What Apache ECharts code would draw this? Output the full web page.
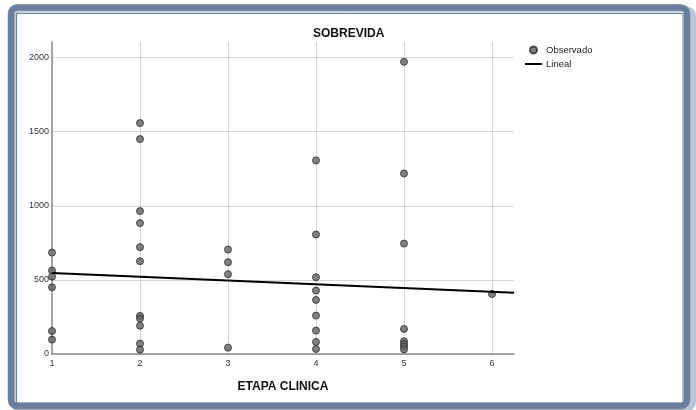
<!DOCTYPE html>
<html>
<head>
<meta charset="utf-8">
<script src="https://cdn.jsdelivr.net/npm/echarts@6/dist/echarts.min.js"></script>
<style>
  html, body { margin: 0; padding: 0; background: #ffffff; }
  #chart { width: 696px; height: 410px; }
</style>
</head>
<body>
<div id="chart"></div>
<script>
// Clinical stage (x) and survival (y) observations
const stage1 = [684, 563, 522, 450, 155, 97];
const stage2 = [1558, 1450, 964, 883, 721, 626, 257, 239, 191, 70, 29];
const stage3 = [705, 619, 538, 43];
const stage4 = [1306, 806, 518, 428, 365, 259, 158, 81, 34];
const stage5 = [1971, 1218, 745, 169, 86, 68, 50, 31];
const stage6 = [405];

// Linear fit drawn across the x range
const fitX = [1, 6.25];
const fitY = [547, 414];

const xTicks = [1, 2, 3, 4, 5, 6];
const yTicks = [0, 500, 1000, 1500, 2000];

const groups = [stage1, stage2, stage3, stage4, stage5, stage6];
const observed = [];
groups.forEach((vals, i) => vals.forEach(v => observed.push([i + 1, v])));
const fitLine = fitX.map((x, i) => [x, fitY[i]]);

const FONT = '"Liberation Sans", Arial, sans-serif';
const FRAME = '#6b7f9c';

const chart = echarts.init(document.getElementById('chart'), null, { renderer: 'canvas' });
chart.setOption({
  animation: false,
  backgroundColor: '#ffffff',
  textStyle: { fontFamily: FONT },
  title: {
    text: 'SOBREVIDA',
    left: 308, top: 23,
    textStyle: { fontFamily: FONT, fontSize: 12, fontWeight: 'bold', color: '#111' }
  },
  legend: {
    orient: 'vertical',
    left: 520, top: 40,
    itemWidth: 17, itemHeight: 7, itemGap: 4,
    textStyle: { fontFamily: FONT, fontSize: 9.5, color: '#222', padding: [0, 0, 0, -1] },
    data: [
      { name: 'Observado', icon: 'circle' },
      { name: 'Lineal', icon: 'path://M0,0H17V2H0Z', itemStyle: { color: '#000' } }
    ]
  },
  grid: { left: 52, right: 182, top: 42, bottom: 56 },
  xAxis: {
    type: 'value',
    min: 1, max: 6.25, interval: 1,
    name: 'ETAPA CLINICA',
    nameLocation: 'middle',
    nameGap: 27,
    nameTextStyle: { fontFamily: FONT, fontSize: 12, fontWeight: 'bold', color: '#111' },
    axisLine: { show: true, lineStyle: { color: '#8c8c8c', width: 1.5 } },
    axisTick: { show: false },
    axisLabel: {
      margin: 5, fontSize: 9, color: '#333', fontFamily: FONT,
      showMaxLabel: false,
      formatter: v => (xTicks.indexOf(v) >= 0 ? String(v) : '')
    },
    splitLine: { show: true, showMaxLine: false, lineStyle: { color: '#d6d6d6', width: 1 } }
  },
  yAxis: {
    type: 'value',
    min: 0, max: 2105, interval: 500,
    axisLine: { show: true, lineStyle: { color: '#8c8c8c', width: 1.5 } },
    axisTick: { show: false },
    axisLabel: {
      margin: 3, fontSize: 9, color: '#333', fontFamily: FONT,
      showMaxLabel: false,
      formatter: v => (yTicks.indexOf(v) >= 0 ? String(v) : '')
    },
    splitLine: { show: true, showMaxLine: false, lineStyle: { color: '#d6d6d6', width: 1 } }
  },
  graphic: [
    { type: 'rect', silent: true, z: -10,
      shape: { x: 13, y: 9.5, width: 680, height: 399, r: 6 },
      style: { fill: 'none', stroke: '#bcc7d6', lineWidth: 6 } },
    { type: 'rect', silent: true, z: -9,
      shape: { x: 11, y: 7.5, width: 676, height: 398.5, r: 6 },
      style: { fill: 'none', stroke: FRAME, lineWidth: 6.5 } },
    { type: 'rect', silent: true, z: -8,
      shape: { x: 16.5, y: 13.5, width: 666.5, height: 389.5 },
      style: { fill: 'none', stroke: FRAME, lineWidth: 1 } }
  ],
  series: [
    {
      name: 'Observado',
      type: 'scatter',
      symbol: 'circle',
      symbolSize: 7,
      itemStyle: { color: '#636363', borderColor: '#2a2a2a', borderWidth: 1 },
      data: observed,
      z: 3
    },
    {
      name: 'Lineal',
      type: 'line',
      symbol: 'none',
      itemStyle: { color: '#000' },
      lineStyle: { color: '#000', width: 2 },
      data: fitLine,
      z: 4
    }
  ]
});
</script>
</body>
</html>
